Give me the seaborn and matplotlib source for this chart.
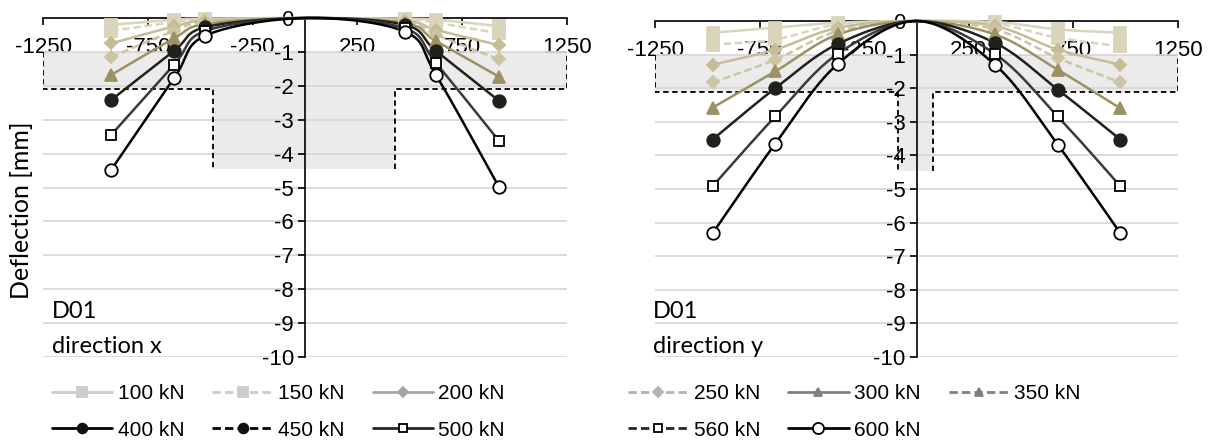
import numpy as np
import pandas as pd
import matplotlib
matplotlib.use("Agg")
import matplotlib.pyplot as plt
from matplotlib.lines import Line2D
import seaborn as sns

# measuring positions [mm] and loads
pos_x = [-925, -625, -475, 0, 475, 625, 925]
pos_y = [-975, -675, -375, 0, 375, 675, 975]
loads = ['100 kN', '150 kN', '200 kN', '250 kN', '300 kN', '350 kN',
         '400 kN', '450 kN', '500 kN', '560 kN', '600 kN']

# deflections [mm], direction x (None = not measured for D01)
defl_x = {
    '100 kN': [-0.20, -0.05, -0.02, 0, -0.02, -0.05, -0.24],
    '150 kN': [-0.38, -0.12, -0.04, 0, -0.04, -0.14, -0.45],
    '200 kN': [-0.75, -0.25, -0.08, 0, -0.08, -0.35, -0.80],
    '250 kN': [-1.15, -0.38, -0.12, 0, -0.12, -0.50, -1.22],
    '300 kN': [-1.68, -0.60, -0.18, 0, -0.15, -0.68, -1.73],
    '350 kN': None,
    '400 kN': [-2.42, -0.97, -0.27, 0, -0.20, -0.97, -2.44],
    '450 kN': None,
    '500 kN': [-3.45, -1.38, -0.38, 0, -0.30, -1.33, -3.62],
    '560 kN': None,
    '600 kN': [-4.48, -1.78, -0.52, 0, -0.40, -1.68, -4.98],
}

# deflections [mm], direction y
defl_y = {
    '100 kN': [-0.35, -0.20, -0.05, 0, -0.03, -0.25, -0.35],
    '150 kN': [-0.70, -0.55, -0.10, 0, -0.08, -0.50, -0.75],
    '200 kN': [-1.30, -0.85, -0.20, 0, -0.15, -0.85, -1.30],
    '250 kN': [-1.83, -1.15, -0.30, 0, -0.25, -1.10, -1.83],
    '300 kN': [-2.58, -1.50, -0.40, 0, -0.40, -1.45, -2.60],
    '350 kN': None,
    '400 kN': [-3.53, -2.00, -0.68, 0, -0.65, -2.04, -3.53],
    '450 kN': None,
    '500 kN': [-4.92, -2.84, -0.97, 0, -0.98, -2.84, -4.92],
    '560 kN': None,
    '600 kN': [-6.32, -3.65, -1.27, 0, -1.30, -3.68, -6.32],
}

# limit zones: band between -1 and -2.1 mm, deeper zone in the middle
band_top = -1.0
band_bottom = -2.1
mid_bottom = -4.45
mid_x = [-440, 430]
mid_y = [-88, 80]

xticks = [-1250, -750, -250, 250, 750, 1250]
yticks = list(range(0, -11, -1))

# plot styles (chart) and legend styles (grey scale, as in the original legend)
plot_style = {
    '100 kN': dict(color='#d9d4bc', ls='-', marker='s', ms=9, mfc='#d9d4bc', mec='#d9d4bc'),
    '150 kN': dict(color='#d9d4bc', ls=(0, (3, 1.5)), marker='s', ms=9, mfc='#d9d4bc', mec='#d9d4bc'),
    '200 kN': dict(color='#c6bc97', ls='-', marker='D', ms=6.5, mfc='#c6bc97', mec='#c6bc97'),
    '250 kN': dict(color='#ccc4a2', ls=(0, (3, 1.5)), marker='D', ms=6.5, mfc='#ccc4a2', mec='#ccc4a2'),
    '300 kN': dict(color='#9b9165', ls='-', marker='^', ms=9, mfc='#9b9165', mec='#9b9165'),
    '400 kN': dict(color='#22201a', ls='-', marker='o', ms=9, mfc='#22201a', mec='#22201a'),
    '500 kN': dict(color='#3a3a3a', ls='-', marker='s', ms=7, mfc='white', mec='black'),
    '600 kN': dict(color='black', ls='-', marker='o', ms=9, mfc='white', mec='black'),
}
legend_style = {
    '100 kN': dict(color='#cccccc', ls='-', marker='s', ms=7, mfc='#cccccc', mec='#cccccc'),
    '150 kN': dict(color='#cccccc', ls=(0, (3, 1.5)), marker='s', ms=7, mfc='#cccccc', mec='#cccccc'),
    '200 kN': dict(color='#a6a6a6', ls='-', marker='D', ms=5, mfc='#a6a6a6', mec='#a6a6a6'),
    '250 kN': dict(color='#b3b3b3', ls=(0, (3, 1.5)), marker='D', ms=5, mfc='#b3b3b3', mec='#b3b3b3'),
    '300 kN': dict(color='#7f7f7f', ls='-', marker='^', ms=6, mfc='#7f7f7f', mec='#7f7f7f'),
    '350 kN': dict(color='#7f7f7f', ls=(0, (3, 1.5)), marker='^', ms=6, mfc='#7f7f7f', mec='#7f7f7f'),
    '400 kN': dict(color='black', ls='-', marker='o', ms=7, mfc='#111111', mec='#111111'),
    '450 kN': dict(color='black', ls=(0, (3, 1.5)), marker='o', ms=7, mfc='#111111', mec='#111111'),
    '500 kN': dict(color='#262626', ls='-', marker='s', ms=6, mfc='white', mec='black'),
    '560 kN': dict(color='#262626', ls=(0, (3, 1.5)), marker='s', ms=6, mfc='white', mec='black'),
    '600 kN': dict(color='black', ls='-', marker='o', ms=8, mfc='white', mec='black'),
}


def smooth(xs, ys, n=25):
    # Excel style smoothed line (cubic Bezier, 1/6 tangents)
    pts = np.column_stack([xs, ys]).astype(float)
    out = []
    for i in range(len(pts) - 1):
        p0 = pts[i - 1] if i > 0 else pts[i]
        p1, p2 = pts[i], pts[i + 1]
        p3 = pts[i + 2] if i + 2 < len(pts) else pts[i + 1]
        c1 = p1 + (p2 - p0) / 6
        c2 = p2 - (p3 - p1) / 6
        t = np.linspace(0, 1, n)[:, None]
        seg = (1 - t)**3 * p1 + 3 * (1 - t)**2 * t * c1 + 3 * (1 - t) * t**2 * c2 + t**3 * p2
        out.append(seg if i == 0 else seg[1:])
    return np.vstack(out)


sns.set_theme(style="white")
plt.rcParams['font.family'] = ['Liberation Sans', 'DejaVu Sans']
plt.rcParams['axes.unicode_minus'] = False
plt.rcParams['text.color'] = 'black'
plt.rcParams['xtick.color'] = 'black'
plt.rcParams['ytick.color'] = 'black'

fig = plt.figure(figsize=(12.11, 4.42), dpi=100)
axL = fig.add_axes([43 / 1211, 1 - 357 / 442, 524 / 1211, 339 / 442])
axR = fig.add_axes([655 / 1211, 1 - 357 / 442, 523 / 1211, 336 / 442])


def draw_panel(ax, pos, defl, mids):
    # grey zones and dashed limit line
    ax.fill_between([-1250, 1250], band_bottom, band_top, color='#ebebeb', lw=0, zorder=0.2)
    ax.fill_between(mids, mid_bottom, band_bottom, color='#ebebeb', lw=0, zorder=0.2)
    ax.plot([-1250, -1250, mids[0], mids[0]], [band_top, band_bottom, band_bottom, mid_bottom],
            color='black', ls=(0, (3, 2)), lw=1.3, zorder=1)
    ax.plot([mids[1], mids[1], 1250, 1250], [mid_bottom, band_bottom, band_bottom, band_top],
            color='black', ls=(0, (3, 2)), lw=1.3, zorder=1)

    for load in loads:
        vals = defl[load]
        if vals is None:
            continue
        st = plot_style[load]
        curve = pd.DataFrame(smooth(pos, vals), columns=['pos', 'defl'])
        sns.lineplot(data=curve, x='pos', y='defl', sort=False, estimator=None, ax=ax,
                     color=st['color'], linestyle=st['ls'], lw=1.8, zorder=3, clip_on=False)
        mk = [(p, v) for p, v in zip(pos, vals) if p != 0]
        ax.plot([m[0] for m in mk], [m[1] for m in mk], ls='none', marker=st['marker'],
                ms=st['ms'], mfc=st['mfc'], mec=st['mec'], mew=1.3, zorder=4, clip_on=False)

    ax.set_xlim(-1250, 1250)
    ax.set_ylim(-10, 0)
    ax.set_xticks(xticks)
    ax.set_yticks(yticks)
    ax.set_xlabel('')
    ax.set_ylabel('')
    ax.yaxis.grid(True, color='#d9d9d9', lw=1.3)
    ax.set_axisbelow(True)
    ax.spines['top'].set_visible(False)
    ax.spines['right'].set_visible(False)
    ax.spines['left'].set_position(('data', 0))
    ax.spines['bottom'].set_position(('data', 0))
    for s in ['left', 'bottom']:
        ax.spines[s].set_color('black')
        ax.spines[s].set_linewidth(1.2)
        ax.spines[s].set_zorder(2.5)
    ax.tick_params(axis='x', direction='out', length=5, width=1.2, color='black',
                   labelcolor='black', labelsize=16, pad=9, bottom=True)
    ax.tick_params(axis='y', direction='out', length=5, width=1.2, color='black',
                   labelcolor='black', labelsize=16, pad=3, left=True)
    for t in ax.get_xticklabels() + ax.get_yticklabels():
        t.set_zorder(5)
    ax.patch.set_alpha(0)


draw_panel(axL, pos_x, defl_x, mid_x)
draw_panel(axR, pos_y, defl_y, mid_y)

# panel captions
for x0, lab in [(52, 'direction x'), (653, 'direction y')]:
    fig.text(x0 / 1211, 1 - 318 / 442, 'D01', family='Lato', fontsize=17, va='baseline')
    fig.text(x0 / 1211, 1 - 353 / 442, lab, family='Lato', fontsize=17, va='baseline')

fig.text(22 / 1211, 1 - 210 / 442, 'Deflection [mm]', family='Lato', fontsize=18,
         rotation=90, ha='center', va='center')


# legend (two blocks, row-wise order)
def handle(load):
    st = legend_style[load]
    return Line2D([], [], color=st['color'], ls=st['ls'], lw=2, marker=st['marker'],
                  ms=st['ms'], mfc=st['mfc'], mec=st['mec'], mew=1.3)


left_order = ['100 kN', '400 kN', '150 kN', '450 kN', '200 kN', '500 kN']
right_order = ['250 kN', '560 kN', '300 kN', '600 kN', '350 kN']
for order, x0 in [(left_order, 52), (right_order, 628)]:
    fig.legend([handle(l) for l in order], order, ncol=3, loc='upper left',
               bbox_to_anchor=(x0 / 1211, 1 - 384 / 442), frameon=False, fontsize=15,
               handlelength=2.9, handletextpad=0.25, columnspacing=1.35, labelspacing=0.85,
               borderpad=0, borderaxespad=0)

fig.savefig('out.png', dpi=100)
